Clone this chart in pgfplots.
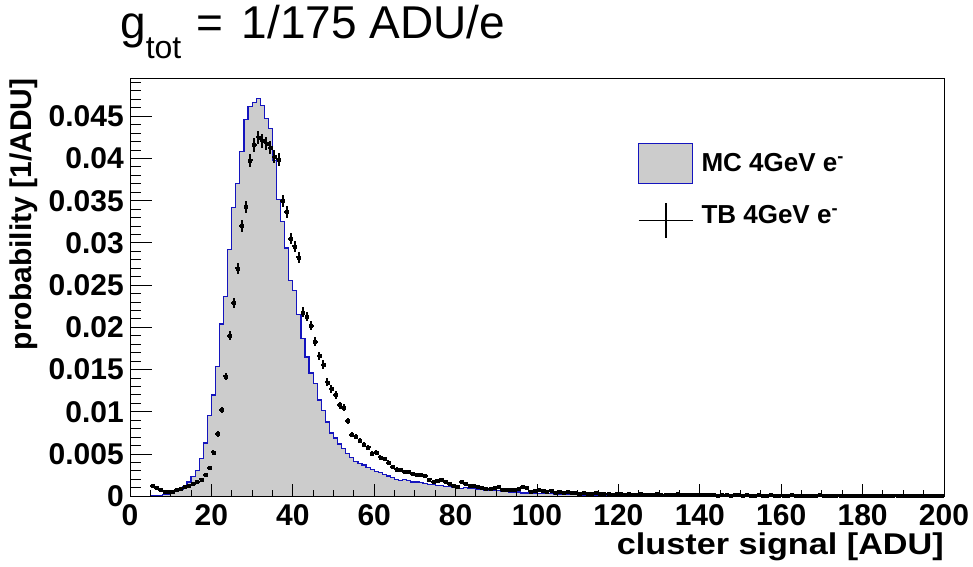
\documentclass[border=0pt]{standalone}
\usepackage{fontspec}
\setmainfont{Liberation Sans}
\newfontfamily\xlabfont[FakeStretch=1.14]{Liberation Sans}
\usepackage{pgfplots}
\pgfplotsset{compat=1.18}
\definecolor{mcfill}{RGB}{204,204,204}
\definecolor{mcline}{RGB}{20,20,190}
\pgfplotstableread{
x y
5 0.0001
6 0.0001
7 0.0001
8 0.0002
9 0.0002
10 0.0004
11 0.0006
12 0.0008
13 0.0011
14 0.0017
15 0.0023
16 0.0031
17 0.0045
18 0.0063
19 0.0096
20 0.0120
21 0.0154
22 0.0204
23 0.0237
24 0.0292
25 0.0342
26 0.0370
27 0.0408
28 0.0446
29 0.0462
30 0.0466
31 0.0471
32 0.0463
33 0.0447
34 0.0436
35 0.0398
36 0.0351
37 0.0325
38 0.0294
39 0.0256
40 0.0244
41 0.0215
42 0.0187
43 0.0165
44 0.0146
45 0.0134
46 0.0114
47 0.0102
48 0.0088
49 0.0075
50 0.0069
51 0.0062
52 0.0057
53 0.0051
54 0.0046
55 0.0041
56 0.0039
57 0.0037
58 0.0034
59 0.0032
60 0.0029
61 0.0028
62 0.0026
63 0.0024
64 0.0022
65 0.0020
66 0.0019
67 0.0020
68 0.0019
69 0.0017
70 0.0017
71 0.0016
72 0.0015
73 0.0014
74 0.0014
75 0.0013
76 0.0013
77 0.0012
78 0.0012
79 0.0010
80 0.0010
81 0.0009
82 0.0010
83 0.0009
84 0.0009
85 0.0008
86 0.0008
87 0.0007
88 0.0008
89 0.0007
90 0.0007
91 0.0006
92 0.0006
93 0.0005
94 0.0005
95 0.0005
96 0.0004
97 0.0004
98 0.0004
99 0.0004
100 0.0003
101 0.0003
102 0.0003
103 0.0003
104 0.0002
105 0.0002
111 0.00015
121 0.0001
141 0.00005
171 0.00003
200 0.00003
}\mcdata
\pgfplotstableread{
x y e
5.5 0.0012 0.00014
6.5 0.0010 0.00012
7.5 0.0008 0.00011
8.5 0.0006 0.00010
9.5 0.0005 0.00009
10.5 0.0006 0.00010
11.5 0.0008 0.00011
12.5 0.0009 0.00012
13.5 0.0011 0.00013
14.5 0.0013 0.00014
15.5 0.0015 0.00015
16.5 0.0017 0.00016
17.5 0.0020 0.00017
18.5 0.0025 0.00020
19.5 0.0034 0.00023
20.5 0.0052 0.00028
21.5 0.0074 0.00034
22.5 0.0102 0.00039
23.5 0.0142 0.00046
24.5 0.0190 0.00054
25.5 0.0229 0.00059
26.5 0.0270 0.00064
27.5 0.0320 0.00070
28.5 0.0343 0.00072
29.5 0.0398 0.00078
30.5 0.0416 0.00080
31.5 0.0425 0.00080
32.5 0.0421 0.00080
33.5 0.0418 0.00080
34.5 0.0413 0.00079
35.5 0.0402 0.00078
36.5 0.0399 0.00078
37.5 0.0350 0.00073
38.5 0.0337 0.00072
39.5 0.0305 0.00068
40.5 0.0296 0.00067
41.5 0.0283 0.00066
42.5 0.0218 0.00058
43.5 0.0213 0.00057
44.5 0.0202 0.00055
45.5 0.0183 0.00053
46.5 0.0166 0.00050
47.5 0.0156 0.00049
48.5 0.0135 0.00045
49.5 0.0127 0.00044
50.5 0.0120 0.00043
51.5 0.0108 0.00041
52.5 0.0105 0.00040
53.5 0.0089 0.00037
54.5 0.0073 0.00033
55.5 0.0071 0.00033
56.5 0.0066 0.00032
57.5 0.0061 0.00030
58.5 0.0058 0.00030
59.5 0.0051 0.00028
60.5 0.0052 0.00028
61.5 0.0046 0.00026
62.5 0.0044 0.00026
63.5 0.0040 0.00025
64.5 0.0035 0.00023
65.5 0.0032 0.00022
66.5 0.0031 0.00022
67.5 0.0029 0.00021
68.5 0.0029 0.00021
69.5 0.0027 0.00020
70.5 0.0026 0.00020
71.5 0.0025 0.00020
72.5 0.0024 0.00019
73.5 0.0020 0.00017
74.5 0.0017 0.00016
75.5 0.0019 0.00017
76.5 0.0020 0.00017
77.5 0.0017 0.00016
78.5 0.0015 0.00015
79.5 0.0012 0.00014
80.5 0.0011 0.00013
81.5 0.0017 0.00016
82.5 0.0015 0.00015
83.5 0.0013 0.00014
84.5 0.0012 0.00014
85.5 0.0011 0.00013
86.5 0.0010 0.00012
87.5 0.0009 0.00012
88.5 0.0009 0.00012
89.5 0.0010 0.00012
90.5 0.0011 0.00013
91.5 0.0008 0.00011
92.5 0.0008 0.00011
93.5 0.0008 0.00011
94.5 0.0008 0.00011
95.5 0.0009 0.00012
96.5 0.0011 0.00013
97.5 0.0010 0.00012
98.5 0.0006 0.00010
99.5 0.0007 0.00010
100.5 0.0008 0.00011
101.5 0.0007 0.00010
102.5 0.0006 0.00010
103.5 0.0007 0.00010
104.5 0.0004 0.00008
105.5 0.0005 0.00009
106.5 0.0004 0.00008
107.5 0.0005 0.00009
108.5 0.0004 0.00008
109.5 0.0004 0.00008
110.5 0.0003 0.00007
111.5 0.0004 0.00008
112.5 0.0003 0.00007
113.5 0.0003 0.00007
114.5 0.0004 0.00008
115.5 0.0003 0.00007
116.5 0.0003 0.00007
117.5 0.0003 0.00007
118.5 0.0002 0.00006
119.5 0.0003 0.00007
120.5 0.0003 0.00007
121.5 0.0002 0.00006
122.5 0.0003 0.00007
123.5 0.0002 0.00006
124.5 0.0002 0.00006
125.5 0.0003 0.00007
126.5 0.0002 0.00006
127.5 0.0002 0.00006
128.5 0.0002 0.00006
129.5 0.0003 0.00007
130.5 0.0002 0.00006
131.5 0.0002 0.00006
132.5 0.0002 0.00006
133.5 0.0002 0.00006
134.5 0.0003 0.00007
135.5 0.0002 0.00006
136.5 0.0002 0.00006
137.5 0.0002 0.00006
138.5 0.0002 0.00006
139.5 0.0002 0.00006
140.5 0.0002 0.00006
141.5 0.0002 0.00006
142.5 0.0002 0.00006
143.5 0.0002 0.00006
144.5 0.0001 0.00005
145.5 0.0002 0.00006
146.5 0.0002 0.00006
147.5 0.0001 0.00005
148.5 0.0002 0.00006
149.5 0.0002 0.00006
150.5 0.0001 0.00005
151.5 0.0002 0.00006
152.5 0.0001 0.00005
153.5 0.0001 0.00005
154.5 0.0002 0.00006
155.5 0.0001 0.00005
156.5 0.0001 0.00005
157.5 0.0002 0.00006
158.5 0.0001 0.00005
159.5 0.0001 0.00005
160.5 0.0001 0.00005
161.5 0.0001 0.00005
162.5 0.0002 0.00006
163.5 0.0001 0.00005
164.5 0.0001 0.00005
165.5 0.0001 0.00005
166.5 0.0001 0.00005
167.5 0.0001 0.00005
168.5 0.0001 0.00005
169.5 0.0002 0.00006
170.5 0.0001 0.00005
171.5 0.0001 0.00005
172.5 0.0001 0.00005
173.5 0.0001 0.00005
174.5 0.0001 0.00005
175.5 0.0001 0.00005
176.5 0.0001 0.00005
177.5 0.0001 0.00005
178.5 0.0001 0.00005
179.5 0.0001 0.00005
180.5 0.0001 0.00005
181.5 0.0001 0.00005
182.5 0.0001 0.00005
183.5 0.0001 0.00005
184.5 0.0001 0.00005
185.5 0.0001 0.00005
186.5 0.0001 0.00005
187.5 0.0001 0.00005
188.5 0.0001 0.00005
189.5 0.0001 0.00005
190.5 0.0001 0.00005
191.5 0.0001 0.00005
192.5 0.0001 0.00005
193.5 0.0001 0.00005
194.5 0.0001 0.00005
195.5 0.0001 0.00005
196.5 0.0001 0.00005
197.5 0.0001 0.00005
198.5 0.0001 0.00005
199.5 0.0001 0.00005
}\tbdata
\begin{document}
\begin{tikzpicture}
\begin{axis}[
  width=814pt, height=418pt, scale only axis,
  xmin=0, xmax=200, ymin=0, ymax=0.0495,
  scaled ticks=false,
  axis on top,
  axis line style={line width=1pt, black},
  tick align=inside,
  ytick pos=left,
  xtick={0,20,40,60,80,100,120,140,160,180,200},
  xticklabels={0,20,40,60,80,100,120,140,160,180,200},
  x tick style={draw=none},
  ytick={0,0.005,0.01,0.015,0.02,0.025,0.03,0.035,0.04,0.045},
  yticklabels={0,0.005,0.01,0.015,0.02,0.025,0.03,0.035,0.04,0.045},
  minor ytick={0.001,0.002,0.003,0.004,0.006,0.007,0.008,0.009,0.011,0.012,0.013,0.014,0.016,0.017,0.018,0.019,0.021,0.022,0.023,0.024,0.026,0.027,0.028,0.029,0.031,0.032,0.033,0.034,0.036,0.037,0.038,0.039,0.041,0.042,0.043,0.044,0.046,0.047,0.048,0.049},
  major tick length=22pt, minor tick length=11pt,
  y tick style={line width=1pt, black},
  /pgf/number format/assume math mode=true,
  ticklabel style={font=\bfseries\fontsize{30}{30}\selectfont},
  xticklabel style={anchor=north, inner sep=0pt, yshift=-8.5pt},
  yticklabel style={anchor=east, inner sep=0pt, xshift=-6pt},
  xlabel={cluster signal [ADU]},
  ylabel={probability [1/ADU]},
  label style={font=\bfseries\fontsize{30}{30}\selectfont, inner sep=0pt},
  xlabel style={at={(rel axis cs:1,-0.1404)}, anchor=base east, font=\xlabfont\bfseries\fontsize{30}{30}\selectfont},
  ylabel style={at={(rel axis cs:-0.1204,1)}, anchor=base east},
  title={g\raisebox{-20pt}{\fontsize{32}{32}\selectfont tot}\hspace{2pt} =\hspace{6pt} 1/175 ADU/e},
  title style={at={(rel axis cs:-0.0123,1.0797)}, anchor=base west, inner sep=0pt, font=\fontsize{46}{46}\selectfont},
  legend cell align=left,
  legend style={at={(rel axis cs:0.6237,0.8459)}, anchor=north west, draw=none, fill=none,
    inner sep=0pt, row sep=18pt, font=\bfseries\fontsize{26}{26}\selectfont,
    nodes={inner sep=0pt},
    /tikz/every odd column/.append style={column sep=8pt}},
]
\addplot[const plot mark left, fill=mcfill, draw=mcline, line width=1.2pt,
  legend image code/.code={\draw[fill=mcfill, draw=mcline, line width=1.2pt] (0pt,-20pt) rectangle (54pt,20pt);}]
  table[x=x, y=y] {\mcdata} \closedcycle;
\addlegendentry{MC 4GeV e\textsuperscript{-}}
\addplot[black, only marks, mark=square*, mark size=1.5pt,
  legend image code/.code={\draw[black, line width=1.6pt] (0pt,-5pt) -- (54pt,-5pt) (27pt,-22.5pt) -- (27pt,12.5pt);},
  error bars/.cd, x dir=both, x fixed=0.6, y dir=both, y explicit, error mark=none,
  error bar style={line width=2pt, black}]
  table[x=x, y=y, y error=e] {\tbdata};
\addlegendentry{TB 4GeV e\textsuperscript{-}}
\coordinate (bbtl) at (rel axis cs:-0.15971,1.18732);
\coordinate (bbbr) at (rel axis cs:1.03563,-0.16675);
\end{axis}
\begin{axis}[
  width=814pt, height=418pt, scale only axis,
  xmin=0, xmax=200, ymin=0, ymax=0.0495,
  scaled ticks=false,
  axis x line*=bottom, axis y line=none,
  axis line style={line width=1pt, black},
  tick align=inside,
  xtick={0,20,40,60,80,100,120,140,160,180,200},
  xticklabels={},
  minor x tick num=3,
  ytick=\empty,
  major tick length=12pt, minor tick length=6pt,
  x tick style={line width=1pt, black},
]
\end{axis}
\pgfresetboundingbox
\path[use as bounding box] (bbtl) rectangle (bbbr);
\end{tikzpicture}
\end{document}
